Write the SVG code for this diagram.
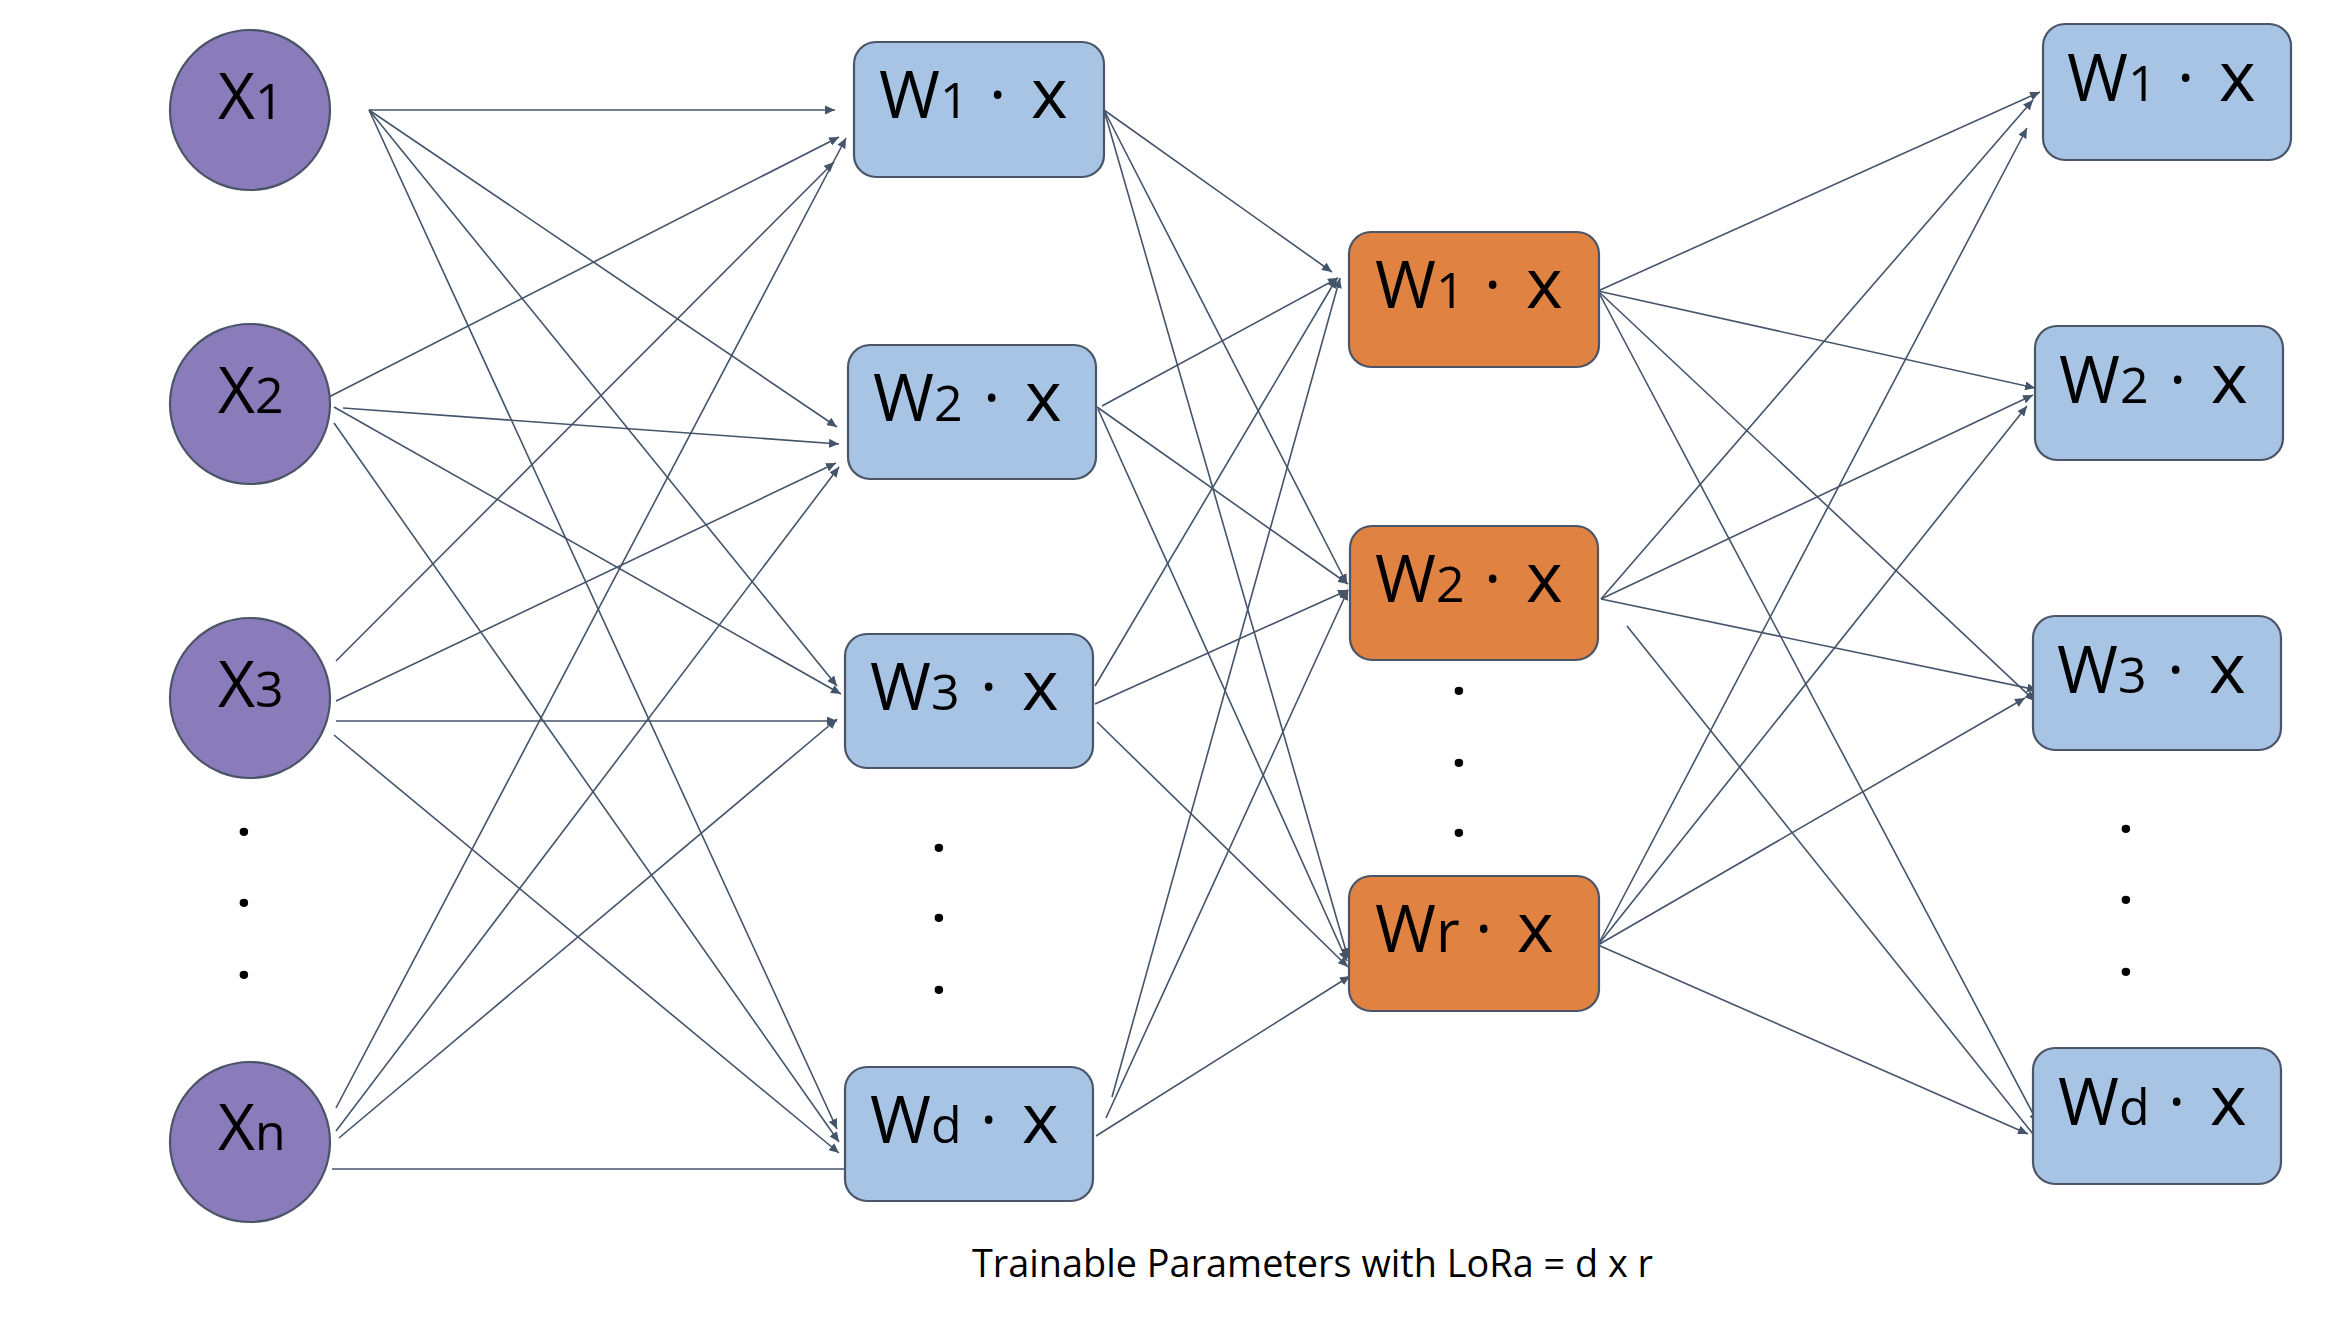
<svg xmlns="http://www.w3.org/2000/svg" width="2344" height="1318" viewBox="0 0 2344 1318">
<defs>
<style>
.in circle{fill:#8A7CBA;stroke:#4A5568;stroke-width:2.2}
.blue rect{fill:#A7C4E4;stroke:#4A5568;stroke-width:2.2}
.orange rect{fill:#E08241;stroke:#4A5568;stroke-width:2.2}
text{font-family:"Open Sans","Liberation Sans",sans-serif;fill:#000}
.lbl{font-size:64px}
.w{font-size:66px}
.sub{font-size:50px}
.subr{font-size:58px}
.xv{font-size:70px}
.dots{font-size:50px;font-weight:700;text-anchor:middle}
.cap{font-size:39px}
#connectors line{stroke:#44546A;stroke-width:1.6;fill:none;marker-end:url(#ah)}
</style>
<marker id="ah" markerUnits="userSpaceOnUse" markerWidth="11" markerHeight="9" refX="10" refY="4.5" orient="auto">
<path d="M0,0 L10,4.5 L0,9 z" fill="#44546A"/>
</marker>
</defs>
<rect width="2344" height="1318" fill="#fff"/>

<g id="connectors">
<line x1="369" y1="110" x2="835" y2="110"/>
<line x1="369" y1="110" x2="837" y2="427"/>
<line x1="369" y1="110" x2="837" y2="686"/>
<line x1="369" y1="110" x2="837" y2="1129"/>
<line x1="323" y1="400" x2="839" y2="137"/>
<line x1="343" y1="408" x2="839" y2="444"/>
<line x1="334" y1="407" x2="841" y2="694"/>
<line x1="334" y1="423" x2="839" y2="1142"/>
<line x1="336" y1="661" x2="834" y2="162"/>
<line x1="336" y1="701" x2="836" y2="463"/>
<line x1="336" y1="721" x2="837" y2="721"/>
<line x1="334" y1="735" x2="839" y2="1153"/>
<line x1="336" y1="1108" x2="846" y2="138"/>
<line x1="336" y1="1131" x2="839" y2="467"/>
<line x1="339" y1="1138" x2="837" y2="719"/>
<line x1="332" y1="1169" x2="864" y2="1169"/>

<line x1="1104" y1="110" x2="1332" y2="272"/>
<line x1="1104" y1="110" x2="1347" y2="584"/>
<line x1="1104" y1="110" x2="1348" y2="958"/>
<line x1="1102" y1="406" x2="1338" y2="278"/>
<line x1="1097" y1="407" x2="1348" y2="584"/>
<line x1="1098" y1="409" x2="1347" y2="961"/>
<line x1="1095" y1="686" x2="1337" y2="278"/>
<line x1="1095" y1="704" x2="1348" y2="590"/>
<line x1="1097" y1="722" x2="1348" y2="967"/>
<line x1="1112" y1="1097" x2="1340" y2="278"/>
<line x1="1106" y1="1118" x2="1348" y2="590"/>
<line x1="1096" y1="1136" x2="1350" y2="976"/>

<line x1="1598" y1="291" x2="2040" y2="92"/>
<line x1="1598" y1="291" x2="2035" y2="388"/>
<line x1="1598" y1="291" x2="2035" y2="701"/>
<line x1="1598" y1="291" x2="2038" y2="1123"/>
<line x1="1601" y1="599" x2="2033" y2="100"/>
<line x1="1601" y1="599" x2="2033" y2="395"/>
<line x1="1601" y1="599" x2="2037" y2="690"/>
<line x1="1627" y1="626" x2="2053" y2="1159"/>
<line x1="1598" y1="945" x2="2027" y2="128"/>
<line x1="1598" y1="945" x2="2027" y2="406"/>
<line x1="1598" y1="945" x2="2025" y2="698"/>
<line x1="1598" y1="945" x2="2028" y2="1134"/>
</g>

<g id="x1" class="in"><circle cx="250" cy="110" r="80"/><text class="lbl" x="218" y="119">X<tspan class="sub">1</tspan></text></g>
<g id="x2" class="in"><circle cx="250" cy="404" r="80"/><text class="lbl" x="218" y="413">X<tspan class="sub">2</tspan></text></g>
<g id="x3" class="in"><circle cx="250" cy="698" r="80"/><text class="lbl" x="218" y="707">X<tspan class="sub">3</tspan></text></g>
<g id="xn" class="in"><circle cx="250" cy="1142" r="80"/><text class="lbl" x="218" y="1150">X<tspan class="sub">n</tspan></text></g>
<g id="dots1"><text class="dots" x="244" y="836">.</text><text class="dots" x="244" y="907">.</text><text class="dots" x="244" y="979">.</text></g>

<g id="h1" class="blue"><rect x="854" y="42" width="250" height="135" rx="22"/><text class="w" y="118"><tspan x="879">W</tspan><tspan class="sub">1</tspan><tspan x="989">·</tspan><tspan class="xv" x="1031">x</tspan></text></g>
<g id="h2" class="blue"><rect x="848" y="345" width="248" height="134" rx="22"/><text class="w" y="421"><tspan x="873">W</tspan><tspan class="sub">2</tspan><tspan x="983">·</tspan><tspan class="xv" x="1025">x</tspan></text></g>
<g id="h3" class="blue"><rect x="845" y="634" width="248" height="134" rx="22"/><text class="w" y="710"><tspan x="870">W</tspan><tspan class="sub">3</tspan><tspan x="980">·</tspan><tspan class="xv" x="1022">x</tspan></text></g>
<g id="hd" class="blue"><rect x="845" y="1067" width="248" height="134" rx="22"/><text class="w" y="1143"><tspan x="870">W</tspan><tspan class="sub">d</tspan><tspan x="980">·</tspan><tspan class="xv" x="1022">x</tspan></text></g>
<g id="dots2"><text class="dots" x="939" y="852">.</text><text class="dots" x="939" y="922">.</text><text class="dots" x="939" y="994">.</text></g>

<g id="a1" class="orange"><rect x="1349" y="232" width="250" height="135" rx="22"/><text class="w" y="308"><tspan x="1375">W</tspan><tspan class="sub">1</tspan><tspan x="1484">·</tspan><tspan class="xv" x="1526">x</tspan></text></g>
<g id="a2" class="orange"><rect x="1350" y="526" width="248" height="134" rx="22"/><text class="w" y="602"><tspan x="1375">W</tspan><tspan class="sub">2</tspan><tspan x="1484">·</tspan><tspan class="xv" x="1526">x</tspan></text></g>
<g id="ar" class="orange"><rect x="1349" y="876" width="250" height="135" rx="22"/><text class="w" y="952"><tspan x="1375">W</tspan><tspan class="subr">r</tspan><tspan x="1475">·</tspan><tspan class="xv" x="1517">x</tspan></text></g>
<g id="dots3"><text class="dots" x="1459" y="695">.</text><text class="dots" x="1459" y="767">.</text><text class="dots" x="1459" y="837">.</text></g>

<g id="o1" class="blue"><rect x="2043" y="24" width="248" height="136" rx="22"/><text class="w" y="101"><tspan x="2067">W</tspan><tspan class="sub">1</tspan><tspan x="2177">·</tspan><tspan class="xv" x="2219">x</tspan></text></g>
<g id="o2" class="blue"><rect x="2035" y="326" width="248" height="134" rx="22"/><text class="w" y="403"><tspan x="2059">W</tspan><tspan class="sub">2</tspan><tspan x="2169">·</tspan><tspan class="xv" x="2211">x</tspan></text></g>
<g id="o3" class="blue"><rect x="2033" y="616" width="248" height="134" rx="22"/><text class="w" y="693"><tspan x="2057">W</tspan><tspan class="sub">3</tspan><tspan x="2167">·</tspan><tspan class="xv" x="2209">x</tspan></text></g>
<g id="od" class="blue"><rect x="2033" y="1048" width="248" height="136" rx="22"/><text class="w" y="1125"><tspan x="2058">W</tspan><tspan class="sub">d</tspan><tspan x="2168">·</tspan><tspan class="xv" x="2210">x</tspan></text></g>
<g id="dots4"><text class="dots" x="2126" y="833">.</text><text class="dots" x="2126" y="904">.</text><text class="dots" x="2126" y="976">.</text></g>

<g id="caption"><text class="cap" x="972" y="1277" textLength="681" lengthAdjust="spacingAndGlyphs">Trainable Parameters with LoRa = d x r</text></g>
</svg>
